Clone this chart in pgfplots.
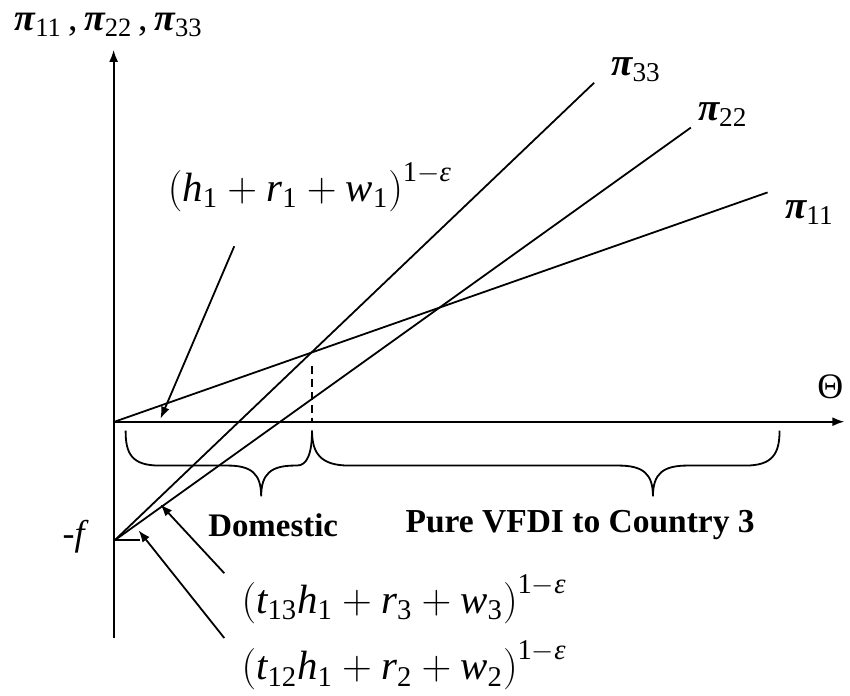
\documentclass[border=0pt]{standalone}
\usepackage{fontspec}
\setmainfont{Liberation Serif}
\usepackage{amsmath}
\usepackage{pgfplots}
\pgfplotsset{compat=1.18}
\usetikzlibrary{arrows.meta}
\newcommand{\vi}[1]{\text{\itshape #1}}
\newcommand{\vs}[1]{\text{#1}}
\newcommand{\pis}[1]{$\text{\bfseries\itshape π}_{\vs{#1}}$}
\begin{document}
\begin{tikzpicture}
\begin{axis}[scale only axis, width=425pt, height=349pt,
  xmin=0, xmax=850, ymin=0, ymax=698, y dir=reverse,
  hide axis, clip=false]
% axes
\addplot[black, line width=0.9pt, -{Latex[length=6pt,width=4.5pt]}] coordinates {(114,640) (114,50)};
\addplot[black, line width=0.9pt, -{Latex[length=6pt,width=4.5pt]}] coordinates {(114,423) (847,423)};
% profit lines
\addplot[black, line width=0.9pt] coordinates {(115,423) (770,193)};
\addplot[black, line width=0.9pt] coordinates {(115,542) (693,128)};
\addplot[black, line width=0.9pt] coordinates {(115,542) (596,83)};
% -f tick and dashed threshold
\addplot[black, line width=0.9pt] coordinates {(114,542) (140,542)};
\addplot[black, line width=0.9pt, dashed, dash pattern=on 4pt off 2.5pt] coordinates {(313,367) (313,423)};
% annotation arrows
\addplot[black, line width=0.9pt, -{Latex[length=6pt,width=4.5pt]}] coordinates {(235,247) (161,420)};
\addplot[black, line width=0.9pt, -{Latex[length=6pt,width=4.5pt]}] coordinates {(225,575) (161,506)};
\addplot[black, line width=0.9pt, -{Latex[length=6pt,width=4.5pt]}] coordinates {(225,640) (139,532)};
% braces
\draw[black, line width=0.9pt] (126,432) .. controls (126,455) and (132,467) .. (160,467)
  -- (228,467) .. controls (252,467) and (262,475) .. (262,498)
  .. controls (262,475) and (272,467) .. (296,467)
  -- (298,467) .. controls (308,467) and (313,455) .. (313,432);
\draw[black, line width=0.9pt] (313,432) .. controls (313,455) and (322,467) .. (350,467)
  -- (620,467) .. controls (645,467) and (655,475) .. (655,498)
  .. controls (655,475) and (665,467) .. (690,467)
  -- (748,467) .. controls (775,467) and (782,455) .. (782,432);
% labels
\node[font=\fontsize{19}{21}\selectfont] at (109,25) {\pis{11}\,,\,\pis{22}\,,\,\pis{33}};
\node[font=\fontsize{19.5}{21}\selectfont] at (638,70) {\pis{33}};
\node[font=\fontsize{19.5}{21}\selectfont] at (725,115) {\pis{22}};
\node[font=\fontsize{19.5}{21}\selectfont] at (812,213) {\pis{11}};
\node[font=\fontsize{18}{20}\selectfont] at (833,388) {Θ};
\node[font=\fontsize{18}{20}\selectfont] at (76,538) {-\textit{f}};
\node[font=\fontsize{16.5}{19}\selectfont\bfseries] at (274,527) {Domestic};
\node[font=\fontsize{16.8}{19}\selectfont\bfseries] at (582,527) {Pure VFDI to Country 3};
\node[anchor=base west, inner sep=0pt, font=\fontsize{20.5}{23}\selectfont] at (168,202)
  {$\left(\vi{h}_{\vs{1}} + \vi{r}_{\vs{1}} + \vi{w}_{\vs{1}}\right)^{\vs{1}-\vi{ε}}$};
\node[anchor=base west, inner sep=0pt, font=\fontsize{20.5}{23}\selectfont] at (242,615)
  {$\left(\vi{t}_{\vs{13}}\vi{h}_{\vs{1}} + \vi{r}_{\vs{3}} + \vi{w}_{\vs{3}}\right)^{\vs{1}-\vi{ε}}$};
\node[anchor=base west, inner sep=0pt, font=\fontsize{20.5}{23}\selectfont] at (242,682)
  {$\left(\vi{t}_{\vs{12}}\vi{h}_{\vs{1}} + \vi{r}_{\vs{2}} + \vi{w}_{\vs{2}}\right)^{\vs{1}-\vi{ε}}$};
\end{axis}
\path (current axis.south west) rectangle (current axis.north east);
\end{tikzpicture}
\end{document}
